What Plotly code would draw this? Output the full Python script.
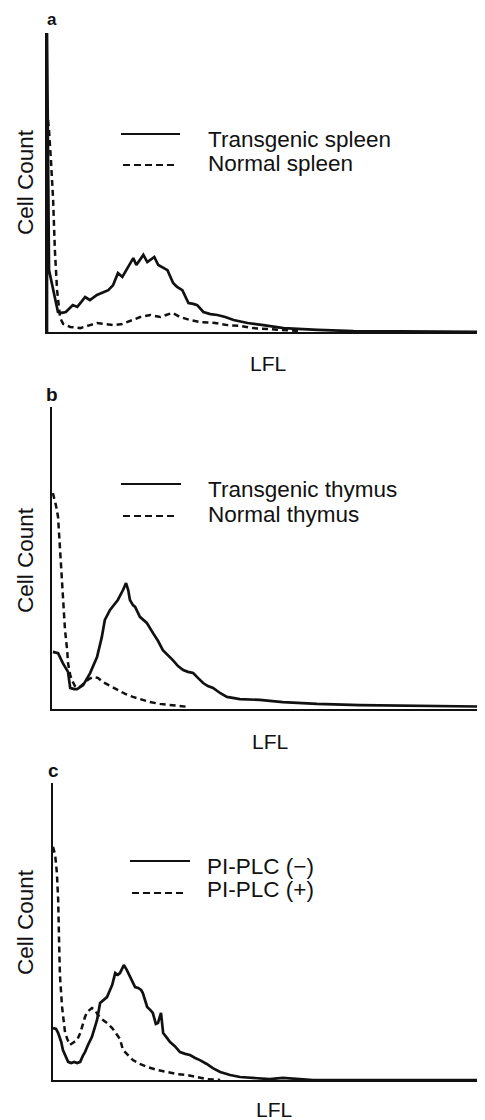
import plotly.graph_objects as go

# ---------------- data (LFL channel 0-100, relative cell count 0-100) ----------------
a_solid_x = [0, 0, 0.46, 2.5, 3.4, 4.3, 5.9, 6.9, 7.8, 8.7, 9.8, 11.4, 14.0, 15.1, 16.2, 17.2, 18.5,
             19.7, 20.4, 22.0, 22.9, 24.5, 25.4, 26.5, 27.5, 28.8, 29.7, 30.9, 32.3, 33.4, 34.3, 35.7,
             37.3, 38.9, 40.7, 42.6, 45.8, 49.4, 54.0, 61.8, 70.0, 80.8, 100]
a_solid_y = [0, 100, 20.7, 6.7, 6.4, 6.7, 9.0, 8.4, 10.0, 11.7, 10.7, 12.4, 14.0, 15.7, 19.7, 18.4, 21.7,
             24.7, 22.4, 25.8, 23.4, 25.1, 22.4, 21.4, 20.7, 16.4, 15.1, 14.0, 9.7, 9.4, 9.0, 6.7,
             6.0, 5.7, 5.0, 4.0, 3.0, 2.3, 1.3, 0.7, 0.3, 0.2, 0]
a_dash_x = [0, 0.46, 0.9, 1.4, 1.8, 2.3, 3.0, 3.7, 5.3, 7.6, 9.8, 11.4, 13.3, 15.1, 17.2, 19.0, 21.3,
            23.6, 25.9, 27.2, 28.6, 30.4, 32.7, 35.0, 38.4, 41.2, 44.2, 47.1, 49.9, 53.3, 57.9]
a_dash_y = [74.2, 67.6, 57.5, 44.1, 27.4, 14.0, 4.7, 2.7, 1.7, 1.3, 2.3, 3.0, 2.7, 2.3, 2.7, 3.7, 5.0,
            5.7, 5.0, 5.7, 6.4, 5.0, 4.0, 3.3, 3.0, 2.3, 2.0, 1.3, 1.0, 0.7, 0.3]

b_solid_x = [0.2, 1.4, 2.5, 3.2, 3.7, 4.2, 5.1, 5.8, 7.2, 8.8, 10.4, 11.5, 12.2, 13.4, 14.3, 15.2, 16.4,
             17.1, 17.6, 18.0, 18.7, 19.2, 20.3, 21.9, 23.3, 24.5, 25.6, 26.8, 27.9, 29.1, 30.3, 31.4,
             32.6, 33.7, 34.9, 36.0, 37.2, 38.8, 40.4, 43.4, 48.0, 53.3, 61.2, 71.1, 85.0, 100]
b_solid_y = [18.9, 18.5, 15.2, 13.6, 12.3, 7.0, 6.6, 6.6, 7.9, 11.9, 17.2, 23.8, 29.5, 32.8, 34.4, 36.1, 39.4,
             41.7, 39.4, 36.1, 34.4, 33.8, 30.5, 28.5, 25.2, 22.5, 19.5, 17.9, 16.2, 14.2, 12.9, 12.3,
             11.9, 10.3, 8.6, 7.6, 7.0, 5.3, 4.0, 3.3, 3.0, 2.3, 1.7, 1.3, 1.0, 0.8]
b_dash_x = [0.2, 0.9, 1.4, 1.8, 2.3, 2.8, 3.0, 3.5, 3.7, 4.2, 4.6, 5.3, 6.0, 6.7, 7.6, 8.5, 9.5, 10.6,
            11.8, 13.4, 15.0, 16.9, 18.7, 20.8, 22.6, 24.9, 27.9, 31.4]
b_dash_y = [71.5, 67.5, 63.6, 54.3, 46.0, 34.4, 26.2, 19.5, 15.2, 11.3, 9.6, 7.6, 7.0, 7.6, 8.6, 9.9, 10.6, 10.3,
            8.9, 7.6, 6.3, 5.0, 4.0, 3.0, 2.3, 1.7, 1.3, 0.7]

c_solid_x = [0, 0.7, 1.2, 1.9, 2.3, 3.0, 3.5, 4.2, 4.9, 5.6, 6.3, 6.9, 7.4, 8.1, 9.0, 9.7, 10.2, 10.9,
             11.6, 12.5, 13.2, 13.7, 14.4, 15.0, 15.5, 16.0, 16.4, 17.1, 17.8, 18.5, 19.0, 19.7, 20.4,
             20.8, 21.3, 21.8, 22.5, 23.1, 23.8, 24.3, 25.0, 25.5, 26.2, 27.1, 28.2, 29.4, 30.6, 31.7,
             32.9, 34.0, 35.6, 37.0, 38.7, 41.0, 43.3, 46.3, 50.2, 53.2, 57.2, 60.2, 100]
c_solid_y = [17.5, 17.2, 15.8, 12.8, 10.1, 7.4, 6.1, 5.7, 6.1, 5.7, 6.1, 8.1, 9.4, 11.8, 14.5, 17.8, 20.2, 25.9,
             26.9, 27.9, 30.3, 32.0, 36.0, 35.4, 36.0, 37.7, 38.7, 37.0, 34.7, 32.7, 31.3, 31.0, 30.3,
             29.3, 26.9, 24.6, 23.6, 22.6, 18.9, 19.2, 22.6, 15.8, 14.5, 12.8, 11.4, 9.4, 8.8, 8.4,
             7.4, 6.7, 5.4, 4.0, 2.7, 1.7, 1.0, 0.7, 0.3, 0.7, 0.3, 0.0, 0]
c_dash_x = [0, 0.5, 0.9, 1.2, 1.4, 1.6, 2.1, 2.5, 2.8, 3.5, 3.9, 4.9, 5.6, 6.3, 6.7, 7.4, 7.9, 8.6, 9.0,
            9.7, 10.4, 11.3, 12.5, 13.7, 14.8, 15.5, 16.2, 17.4, 18.5, 20.1, 21.8, 24.1, 26.4, 28.7,
            31.0, 33.3, 35.6, 38.7]
c_dash_y = [78.5, 75.8, 69.7, 60.6, 47.1, 35.4, 24.6, 18.5, 15.8, 13.1, 11.8, 12.8, 13.5, 15.8, 17.8, 21.2, 22.9,
            23.9, 24.2, 23.6, 21.9, 20.5, 19.2, 17.5, 15.2, 13.8, 10.1, 8.4, 6.7, 5.4, 4.4, 3.4, 2.7, 2.0,
            1.7, 1.0, 0.3, 0]

panel_labels = ["a", "b", "c"]
solid_names = ["Transgenic spleen", "Transgenic thymus", "PI-PLC (−)"]
dash_names = ["Normal spleen", "Normal thymus", "PI-PLC (+)"]
x_title = "LFL"
y_title = "Cell Count"

# ---------------- layout geometry (page pixels; page body has an 8px margin) ----------------
OFF = 8
W, H = 485 - OFF, 1120 - OFF
FONT = "Liberation Sans, Arial, Helvetica, sans-serif"
panels = [
    dict(x0=47, x1=485, top=33, base=332, lab=(52, None), ytl=(25, 182), xtl=(268, 363),
         leg_solid=(121, 180, 134), leg_dash=(123, 177, 165), leg_text=(206, 139, 163)),
    dict(x0=52, x1=485, top=407, base=709, lab=(52, 394), ytl=(25, 560), xtl=(270, 741),
         leg_solid=(121, 181, 484), leg_dash=(123, 178, 516), leg_text=(206, 490, 514)),
    dict(x0=53, x1=485, top=783, base=1080, lab=(53, 770), ytl=(25, 922), xtl=(274, 1109),
         leg_solid=(130, 190, 861), leg_dash=(132, 187, 893), leg_text=(205, 866, 889)),
]
series = [(a_solid_x, a_solid_y, a_dash_x, a_dash_y),
          (b_solid_x, b_solid_y, b_dash_x, b_dash_y),
          (c_solid_x, c_solid_y, c_dash_x, c_dash_y)]

px = lambda v: min(1.0, (v - OFF) / W)
py = lambda v: 1 - (v - OFF) / H

fig = go.Figure()
annotations, shapes = [], []
layout = dict(width=W, height=H, margin=dict(l=0, r=0, t=0, b=0),
              paper_bgcolor="white", plot_bgcolor="white", showlegend=False,
              font=dict(family=FONT, color="#111", size=22.5))

for i, (p, s) in enumerate(zip(panels, series)):
    n = "" if i == 0 else str(i + 1)
    xa, ya = "x" + n, "y" + n
    sx, sy, dx, dy = s
    fig.add_trace(go.Scatter(x=sx, y=sy, mode="lines", name=solid_names[i], xaxis=xa, yaxis=ya,
                             line=dict(color="#111", width=2.7, shape="linear")))
    fig.add_trace(go.Scatter(x=dx, y=dy, mode="lines", name=dash_names[i], xaxis=xa, yaxis=ya,
                             line=dict(color="#111", width=2.5, dash="6px,4px")))
    axis_common = dict(showgrid=False, zeroline=False, showticklabels=False, ticks="",
                       showline=True, linecolor="#111", linewidth=2.2, fixedrange=True)
    layout["xaxis" + n] = dict(domain=[px(p["x0"]), px(p["x1"])], range=[0, 100],
                               anchor=ya, **axis_common)
    layout["yaxis" + n] = dict(domain=[py(p["base"]), py(p["top"])], range=[0, 100],
                               anchor=xa, **axis_common)

    if p["lab"][1] is None:
        lab = dict(x=px(p["lab"][0]), y=1.0, yanchor="top", font=dict(size=17))
    else:
        lab = dict(x=px(p["lab"][0]), y=py(p["lab"][1]), yanchor="middle", font=dict(size=19))
    annotations += [
        dict(text="<b>%s</b>" % panel_labels[i], xref="paper", yref="paper", showarrow=False,
             xanchor="center", **lab),
        dict(text=y_title, x=px(p["ytl"][0]), y=py(p["ytl"][1]), textangle=-90,
             xref="paper", yref="paper", showarrow=False, xanchor="center", yanchor="middle"),
        dict(text=x_title, x=px(p["xtl"][0]), y=py(p["xtl"][1]),
             xref="paper", yref="paper", showarrow=False, xanchor="center", yanchor="middle",
             font=dict(size=21)),
        dict(text=solid_names[i], x=px(p["leg_text"][0]), y=py(p["leg_text"][1]),
             xref="paper", yref="paper", showarrow=False, xanchor="left", yanchor="middle"),
        dict(text=dash_names[i], x=px(p["leg_text"][0]), y=py(p["leg_text"][2]),
             xref="paper", yref="paper", showarrow=False, xanchor="left", yanchor="middle"),
    ]
    ls, ld = p["leg_solid"], p["leg_dash"]
    shapes += [
        dict(type="line", xref="paper", yref="paper", x0=px(ls[0]), x1=px(ls[1]),
             y0=py(ls[2]), y1=py(ls[2]), line=dict(color="#111", width=2)),
        dict(type="line", xref="paper", yref="paper", x0=px(ld[0]), x1=px(ld[1]),
             y0=py(ld[2]), y1=py(ld[2]), line=dict(color="#111", width=2, dash="7px,4px")),
    ]

layout["annotations"] = annotations
layout["shapes"] = shapes
fig.update_layout(**layout)
fig.write_html("out.html")
